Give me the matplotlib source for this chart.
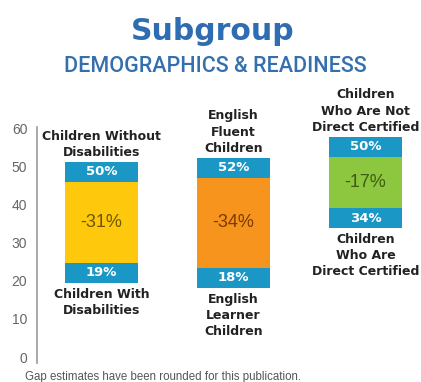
import matplotlib.pyplot as plt
import numpy as np

# values
top_labels = ["Children Without\nDisabilities", "English\nFluent\nChildren",
              "Children\nWho Are Not\nDirect Certified"]
bottom_labels = ["Children With\nDisabilities", "English\nLearner\nChildren",
                 "Children\nWho Are\nDirect Certified"]
high_pct = [50, 52, 50]
low_pct = [19, 18, 34]
gap_pct = [-31, -34, -17]
bar_top = [51.3, 52.4, 57.9]
bar_bottom = [19.5, 18.2, 33.9]
yticks = [0, 10, 20, 30, 40, 50, 60]

fill_colors = ["#fec80c", "#f7941d", "#8dc63f"]
gap_colors = ["#6e5500", "#7a3a00", "#3f5c12"]
cap_color = "#1b97c5"
cap_h = 5.2

plt.rcParams['font.family'] = ['Liberation Sans', 'DejaVu Sans']

fig = plt.figure(figsize=(4.21, 3.82), dpi=100)
ax = fig.add_axes([37 / 421, 0.0505, 384 / 421, 0.617])

x = np.arange(3)
w = 0.553
top = np.array(bar_top)
bot = np.array(bar_bottom)

ax.bar(x, top - bot, bottom=bot, width=w, color=fill_colors, linewidth=0)
ax.bar(x, cap_h, bottom=top - cap_h, width=w, color=cap_color, linewidth=0)
ax.bar(x, cap_h, bottom=bot, width=w, color=cap_color, linewidth=0)

for i in range(3):
    ax.text(x[i], top[i] - cap_h / 2, f"{high_pct[i]}%", ha='center', va='center',
            color='white', fontsize=9.5, fontweight='bold', family='DejaVu Sans')
    ax.text(x[i], bot[i] + cap_h / 2, f"{low_pct[i]}%", ha='center', va='center',
            color='white', fontsize=9.5, fontweight='bold', family='DejaVu Sans')
    mid = (top[i] - cap_h + bot[i] + cap_h) / 2
    ax.text(x[i], mid, f"{gap_pct[i]}%", ha='center', va='center',
            color=gap_colors[i], fontsize=13)
    ax.annotate(top_labels[i], (x[i], top[i]), xytext=(0, 2), textcoords='offset points',
                ha='center', va='bottom', fontsize=9, fontweight='bold', family='DejaVu Sans',
                color='#222222', linespacing=1.35, annotation_clip=False)
    ax.annotate(bottom_labels[i], (x[i], bot[i]), xytext=(0, -3.5), textcoords='offset points',
                ha='center', va='top', fontsize=9, fontweight='bold', family='DejaVu Sans',
                color='#222222', linespacing=1.3, annotation_clip=False)

ax.set_xlim(-0.489, 2.42)
ax.set_ylim(-1.5, 60.5)
ax.set_yticks(yticks)
ax.tick_params(axis='y', length=0, pad=7, labelsize=10, labelcolor='#666666')
ax.set_xticks([])
for s in ['top', 'right', 'bottom']:
    ax.spines[s].set_visible(False)
ax.spines['left'].set_color('#9a9a9a')
ax.spines['left'].set_linewidth(1.2)

fig.text(213 / 421, 1 - 31 / 382, "Subgroup", ha='center', va='center',
         fontsize=21.5, fontweight='bold', family='DejaVu Sans', color='#2f6db3')
fig.text(215 / 421, 1 - 67 / 382, "DEMOGRAPHICS & READINESS", ha='center', va='center',
         fontsize=15.5, color='#3470ad', family=['Roboto', 'Liberation Sans'],
         fontweight='medium')
fig.text(25 / 421, 1 - 377 / 382, "Gap estimates have been rounded for this publication.",
         ha='left', va='center', fontsize=8.3, color='#555555')

fig.savefig('out.png', dpi=100)
